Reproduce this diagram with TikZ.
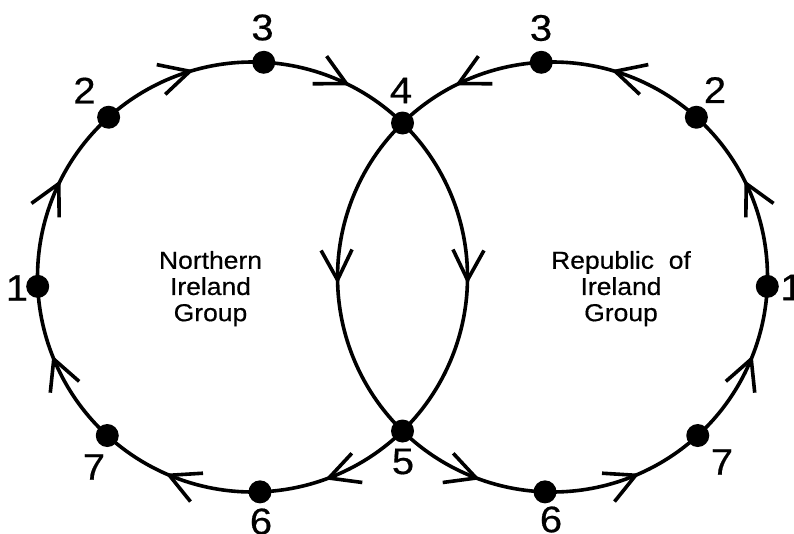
\documentclass[tikz,border=0pt]{standalone}
\usepackage{fontspec}
\setmainfont{Liberation Sans}[FakeStretch=1.08,FakeBold=0.5]
\usetikzlibrary{arrows.meta,decorations.markings,calc}
\begin{document}
\begin{tikzpicture}[x=1pt,y=1pt,
  dot/.style={circle,fill=black,inner sep=0pt,minimum size=23pt},
  num/.style={inner sep=0pt,font=\fontsize{37}{44}\selectfont},
  group/.style={inner sep=0pt,align=center,anchor=north,font=\fontsize{24.5}{26.2}\selectfont},
  flow/.style={line width=3.6pt,postaction={decorate},
    decoration={markings,mark=at position #1 with {\arrow{Straight Barb[length=30pt,width=31pt]}}}},
  flow/.default=0.58]
\useasboundingbox (0,0) rectangle (794,-533);
\def\R{215}
% centres of the two group circles
\coordinate (cL) at (252.5,-277);
\coordinate (cR) at (552.5,-277);

% shared teams where the circles cross
\node[dot] (n4) at ($(cL)+(45.75:\R)$) {};
\node[dot] (n5) at ($(cL)+(-45.75:\R)$) {};
% Northern Ireland group
\node[dot] (L1) at ($(cL)+(182.5:\R)$) {};
\node[dot] (L2) at ($(cL)+(132:\R)$) {};
\node[dot] (L3) at ($(cL)+(87:\R)$) {};
\node[dot] (L6) at ($(cL)+(-88:\R)$) {};
\node[dot] (L7) at ($(cL)+(-132.5:\R)$) {};
% Republic of Ireland group
\node[dot] (R1) at ($(cR)+(-2.5:\R)$) {};
\node[dot] (R2) at ($(cR)+(48:\R)$) {};
\node[dot] (R3) at ($(cR)+(93:\R)$) {};
\node[dot] (R6) at ($(cR)+(-92:\R)$) {};
\node[dot] (R7) at ($(cR)+(-47.5:\R)$) {};

% left circle, clockwise
\draw[flow=0.52] (n4.center) arc[start angle=45.75,end angle=-45.75,radius=\R];
\draw[flow] (n5.center) arc[start angle=-45.75,end angle=-88,radius=\R];
\draw[flow] (L6.center) arc[start angle=-88,end angle=-132.5,radius=\R];
\draw[flow] (L7.center) arc[start angle=-132.5,end angle=-177.5,radius=\R];
\draw[flow] (L1.center) arc[start angle=182.5,end angle=132,radius=\R];
\draw[flow] (L2.center) arc[start angle=132,end angle=87,radius=\R];
\draw[flow] (L3.center) arc[start angle=87,end angle=45.75,radius=\R];
% right circle, anticlockwise
\draw[flow=0.52] (n4.center) arc[start angle=134.25,end angle=225.75,radius=\R];
\draw[flow] (n5.center) arc[start angle=225.75,end angle=268,radius=\R];
\draw[flow] (R6.center) arc[start angle=-92,end angle=-47.5,radius=\R];
\draw[flow] (R7.center) arc[start angle=-47.5,end angle=-2.5,radius=\R];
\draw[flow] (R1.center) arc[start angle=-2.5,end angle=48,radius=\R];
\draw[flow] (R2.center) arc[start angle=48,end angle=93,radius=\R];
\draw[flow] (R3.center) arc[start angle=93,end angle=134.25,radius=\R];

% position numbers
\node[num] (t4) at (401,-90.5) {4};
\node[num] (t5) at (403,-461.5) {5};
\node[num] (tL1) at (17,-288) {1};
\node[num] (tL2) at (84.5,-90.5) {2};
\node[num] (tL3) at (262.5,-27.5) {3};
\node[num] (tL6) at (261,-521.5) {6};
\node[num] (tL7) at (94,-467) {7};
\node[num] (tR1) at (791.5,-287.5) {1};
\node[num] (tR2) at (715,-90) {2};
\node[num] (tR3) at (541,-28) {3};
\node[num] (tR6) at (551,-519.5) {6};
\node[num] (tR7) at (722,-462) {7};

% group names
\node[group] (gNI) at (210.5,-250.8) {Northern\\Ireland\\Group};
\node[group] (gRI) at (621,-250.8) {Republic\ \ of\\Ireland\\Group};
\end{tikzpicture}
\end{document}
